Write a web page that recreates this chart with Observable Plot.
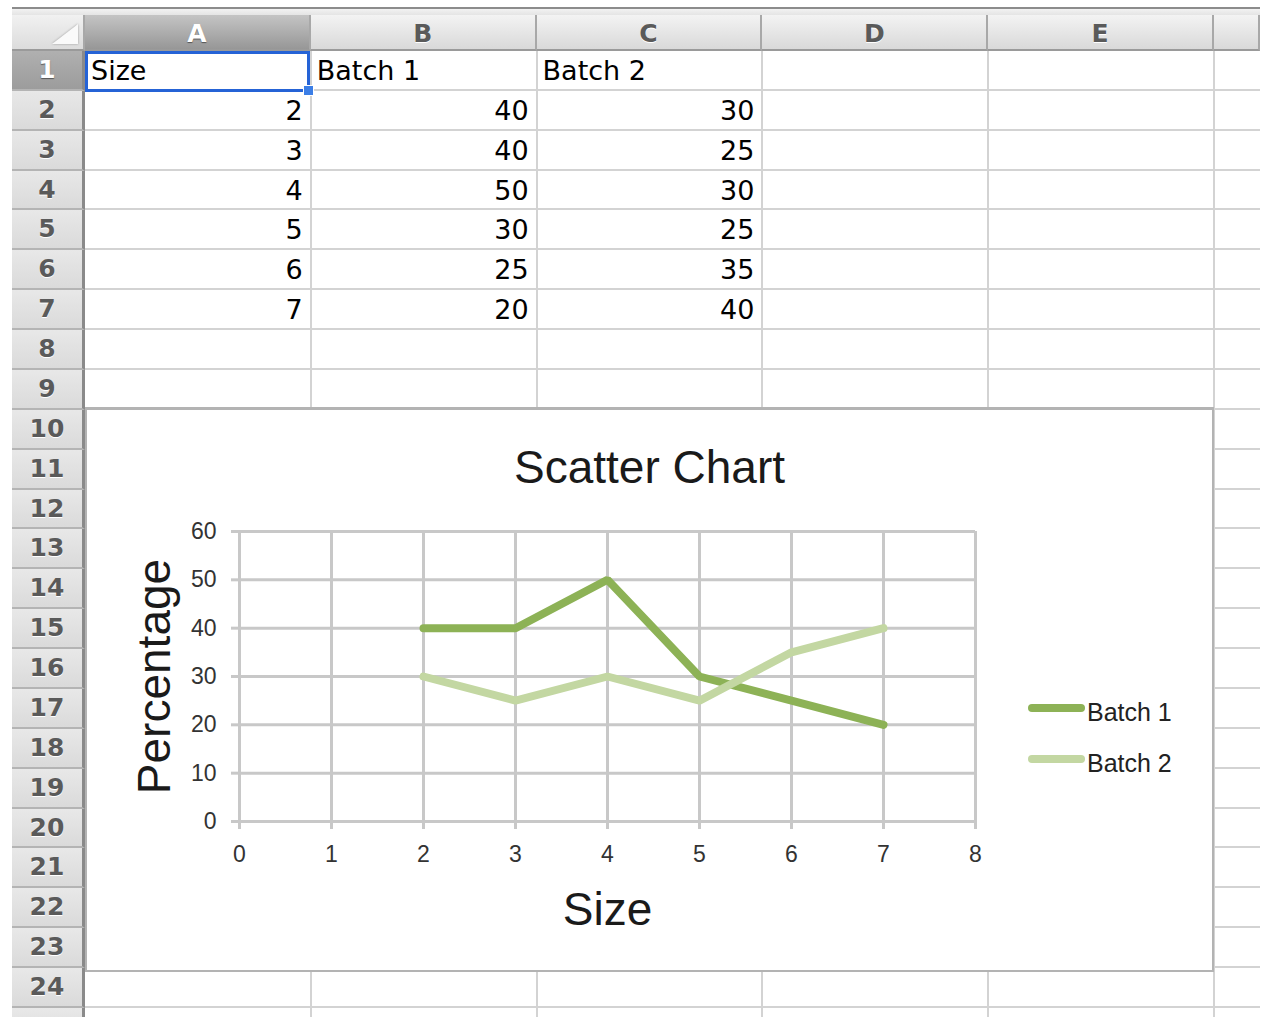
<!DOCTYPE html>
<html>
<head>
<meta charset="utf-8">
<script src="https://cdn.jsdelivr.net/npm/d3@7"></script>
<script src="https://cdn.jsdelivr.net/npm/@observablehq/plot@0.6"></script>
<style>
  body { margin: 0; background: #fff; width: 1267px; height: 1017px; overflow: hidden; position: relative; font-family: "DejaVu Sans", sans-serif; }
  .abs { position: absolute; box-sizing: border-box; }
</style>
</head>
<body>
<script>
// ---- data ----
const columnLetters = ["A", "B", "C", "D", "E", "F"];
const headerRow = ["Size", "Batch 1", "Batch 2"];
const sizes = [2, 3, 4, 5, 6, 7];
const batch1 = [40, 40, 50, 30, 25, 20];
const batch2 = [30, 25, 30, 25, 35, 40];
const seriesNames = ["Batch 1", "Batch 2"];
const seriesColors = ["#8db256", "#c3d7a2"];
const xTicks = [0, 1, 2, 3, 4, 5, 6, 7, 8];
const yTicks = [0, 10, 20, 30, 40, 50, 60];
const chartTitle = "Scatter Chart";
const xLabel = "Size";
const yLabel = "Percentage";
const rowCount = 25;

// ---- spreadsheet layout ----
const L = {
  left: 12, colStart: 85, colW: 225.8, right: 1260,
  headTop: 15, headBottom: 51, rowH: 39.87
};
function box(x, y, w, h, css, text) {
  const d = document.createElement("div");
  d.className = "abs";
  d.style.cssText = `left:${x}px;top:${y}px;width:${w}px;height:${h}px;${css || ""}`;
  if (text != null) d.textContent = text;
  document.body.appendChild(d);
  return d;
}
// top separator
box(L.left, 7, L.right - L.left, 2, "background:#8c8c8c");
box(L.left, 9, L.right - L.left, 6, "background:linear-gradient(#f2f2f2,#e4e4e4)");
// corner
box(L.left, L.headTop, L.colStart - L.left, L.headBottom - L.headTop,
  "background:linear-gradient(#f1f1f1,#dcdcdc);border-right:2px solid #a8a8a8;border-bottom:2px solid #9a9a9a");
box(52, 24, 0, 0, "border-left:26px solid transparent;border-bottom:20px solid #fafafa;filter:drop-shadow(0 0 1px #999)");
// column headers
columnLetters.forEach((c, i) => {
  const x = L.colStart + i * L.colW;
  const w = Math.min(L.colW, L.right - x);
  const sel = i === 0;
  box(x, L.headTop, w, L.headBottom - L.headTop,
    `background:${sel ? "linear-gradient(#c4c4c4,#979797)" : "linear-gradient(#f3f3f3,#d9d9d9)"};` +
    `border-right:2px solid #a8a8a8;border-bottom:2px solid #9a9a9a;` +
    `font:bold 25px "DejaVu Sans",sans-serif;text-align:center;line-height:38px;` +
    `color:${sel ? "#fff" : "#5a5a5a"};text-shadow:${sel ? "0 1px 1px #555" : "0 1px 0 #fff"}`,
    i < 5 ? c : "");
});
// row headers and cell grid
for (let r = 1; r <= rowCount; r++) {
  const y = L.headBottom + (r - 1) * L.rowH;
  const sel = r === 1;
  box(L.left, y, L.colStart - L.left, L.rowH,
    `background:${sel ? "linear-gradient(#b0b0b0,#9c9c9c)" : "linear-gradient(#e8e8e8,#dadada)"};` +
    `border-right:3px solid #8a8a8a;border-bottom:2px solid #b4b4b4;` +
    `font:bold 25px "DejaVu Sans",sans-serif;text-align:center;line-height:38px;` +
    `color:${sel ? "#fff" : "#5a5a5a"};text-shadow:${sel ? "0 1px 1px #555" : "0 1px 0 #fff"}`,
    r < rowCount ? String(r) : "");
  box(L.colStart, y + L.rowH - 2, L.right - L.colStart, 2, "background:#d3d3d3");
}
for (let i = 1; i <= 5; i++) {
  box(L.colStart + i * L.colW - 1, L.headBottom, 2, 1017 - L.headBottom, "background:#d3d3d3");
}
// cell contents
function cell(col, row, text, align) {
  const x = L.colStart + col * L.colW;
  const y = L.headBottom + (row - 1) * L.rowH;
  box(x, y, L.colW, L.rowH,
    `font:27px "DejaVu Sans",sans-serif;color:#000;line-height:${L.rowH}px;` +
    `text-align:${align};padding:0 8px 0 6px;white-space:nowrap`, text);
}
headerRow.forEach((h, c) => cell(c, 1, h, "left"));
sizes.forEach((s, i) => {
  cell(0, i + 2, String(s), "right");
  cell(1, i + 2, String(batch1[i]), "right");
  cell(2, i + 2, String(batch2[i]), "right");
});
// selection of A1
box(L.colStart, L.headBottom, L.colW - 1, L.rowH + 1, "border:3px solid #2563d6");
box(L.colStart + L.colW - 8, L.headBottom + L.rowH - 6, 11, 11, "background:#3b7ee6;border:1px solid #fff");

// ---- chart object ----
const cb = { x: 85, y: 407, w: 1129, h: 565 };
box(cb.x, cb.y, cb.w, cb.h, "background:#fff;border:2px solid #b3b3b3;border-top:3px solid #b3b3b3");
box(cb.x, 440, cb.w, 54,
  `font:46px "Liberation Sans",Arial,sans-serif;color:#1a1a1a;text-align:center;line-height:54px`, chartTitle);

const rows = sizes.flatMap((s, i) => [
  { size: s, value: batch1[i], series: seriesNames[0] },
  { size: s, value: batch2[i], series: seriesNames[1] }
]);

const plot = Plot.plot({
  width: 1126,
  height: 561,
  marginLeft: 153,
  marginRight: 237,
  marginTop: 122,
  marginBottom: 149,
  style: { fontFamily: "'Liberation Sans', Arial, sans-serif", background: "transparent", overflow: "visible" },
  x: { domain: [0, 8], axis: null },
  y: { domain: [0, 60], axis: null },
  color: { domain: seriesNames, range: seriesColors },
  marks: [
    Plot.gridX(xTicks, { stroke: "#c8c8c8", strokeOpacity: 1, strokeWidth: 3 }),
    Plot.gridY(yTicks, { stroke: "#c8c8c8", strokeOpacity: 1, strokeWidth: 3 }),
    Plot.axisX(xTicks, { tickSize: 8, tickPadding: 16, stroke: "#c8c8c8", strokeWidth: 3, fill: "#333", fontSize: 23, label: null }),
    Plot.axisY(yTicks, { tickSize: 8, tickPadding: 15, stroke: "#c8c8c8", strokeWidth: 3, fill: "#333", fontSize: 23, label: null }),
    Plot.line(rows, { x: "size", y: "value", z: "series", stroke: "series", strokeWidth: 8, strokeLinecap: "round", strokeLinejoin: "miter" }),
    Plot.text([yLabel], { frameAnchor: "left", dx: -84, rotate: -90, textAnchor: "middle", lineAnchor: "middle", text: d => d, fontSize: 46, fill: "#1a1a1a" }),
    Plot.text([xLabel], { frameAnchor: "bottom", dy: 89, textAnchor: "middle", lineAnchor: "middle", text: d => d, fontSize: 46, fill: "#1a1a1a" })
  ]
});
const holder = box(86, 409, 1126, 561, "");
holder.appendChild(plot);

// legend
seriesNames.forEach((name, i) => {
  const cy = 708 + i * 51;
  box(1028, cy - 4, 57, 8, `background:${seriesColors[i]};border-radius:4px`);
  box(1087, cy - 11, 120, 30, `font:25px "Liberation Sans",Arial,sans-serif;color:#222;line-height:30px;white-space:nowrap`, name);
});
</script>
</body>
</html>
